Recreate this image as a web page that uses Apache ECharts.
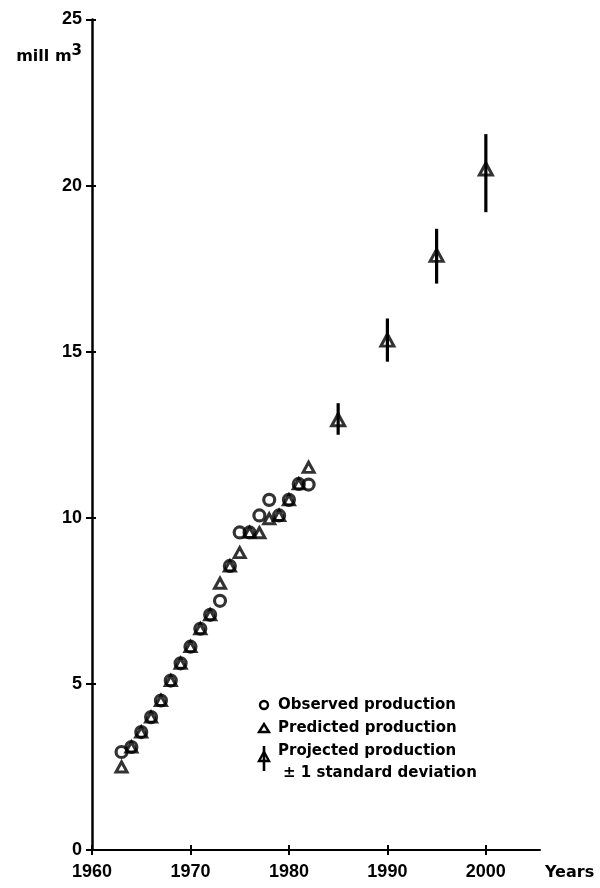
<!DOCTYPE html>
<html>
<head>
<meta charset="utf-8">
<style>html,body{margin:0;padding:0;background:#fff}#c{width:600px;height:888px}</style>
<script src="https://cdn.jsdelivr.net/npm/echarts@6/dist/echarts.min.js"></script>
</head>
<body>
<div id="c"></div>
<script>
const years = [1963,1964,1965,1966,1967,1968,1969,1970,1971,1972,1973,1974,1975,1976,1977,1978,1979,1980,1981,1982];
const observed = [2.95,3.1,3.55,4.0,4.5,5.1,5.62,6.12,6.66,7.08,7.5,8.55,9.56,9.56,10.07,10.54,10.07,10.54,11.02,11.0];
const predicted = [2.5,3.1,3.55,4.0,4.5,5.1,5.62,6.12,6.66,7.08,8.03,8.55,8.95,9.56,9.55,9.97,10.07,10.54,11.02,11.52];
const projYears = [1985,1990,1995,2000];
const projMean = [12.95,15.35,17.9,20.5];
const projLow = [12.5,14.7,17.05,19.2];
const projHigh = [13.45,16.0,18.7,21.55];
const xTicks = [1960,1970,1980,1990,2000];
const yTicks = [0,5,10,15,20,25];

const FONT = 'DejaVu Sans';
const TICKFONT = 'Liberation Sans';
const chart = echarts.init(document.getElementById('c'), null, {renderer:'canvas'});

const tickLbl = {fontFamily: TICKFONT, fontWeight: 'bold', fontSize: 18, color: '#000'};
const nameLbl = {fontFamily: FONT, fontWeight: 'bold', fontSize: 16, color: '#000'};

chart.setOption({
  animation: false,
  backgroundColor: '#fff',
  grid: {left: 92, top: 19.5, width: 448, height: 830.5},
  xAxis: [{
    type: 'value', min: 1960, max: 2005.5, interval: 10,
    splitLine: {show: false},
    axisLine: {lineStyle: {color: '#000', width: 2}},
    axisTick: {customValues: xTicks, length: 5, lineStyle: {color: '#000', width: 2}},
    axisLabel: Object.assign({customValues: xTicks, margin: 13, formatter: v => String(v)}, tickLbl),
    name: 'Years', nameLocation: 'end', nameGap: 5,
    nameTextStyle: Object.assign({align: 'left', verticalAlign: 'top', padding: [15, 0, 0, 0]}, nameLbl)
  }, {
    type: 'value', min: 1960, max: 2005.5, interval: 10, position: 'bottom',
    splitLine: {show: false},
    axisLine: {show: false},
    axisTick: {inside: true, customValues: xTicks, length: 5, lineStyle: {color: '#000', width: 2}},
    axisLabel: {show: false}
  }],
  yAxis: [{
    type: 'value', min: 0, max: 25, interval: 5,
    splitLine: {show: false},
    axisLine: {show: true, lineStyle: {color: '#000', width: 2.5}},
    axisTick: {show: true, customValues: yTicks, length: 6, lineStyle: {color: '#000', width: 2}},
    axisLabel: Object.assign({margin: 10}, tickLbl),
    name: 'mill m{sup|3}', nameLocation: 'end', nameGap: -37,
    nameTextStyle: Object.assign({align: 'right', verticalAlign: 'middle', padding: [0, 10, 0, 0],
      rich: {sup: {fontFamily: FONT, fontWeight: 'bold', fontSize: 15, color: '#000', verticalAlign: 'bottom', padding: [0,0,10,0]}}}, nameLbl)
  }, {
    type: 'value', min: 0, max: 25, interval: 5, position: 'left',
    splitLine: {show: false},
    axisLine: {show: false},
    axisTick: {show: true, inside: true, customValues: yTicks, length: 4, lineStyle: {color: '#000', width: 2}},
    axisLabel: {show: false}
  }],
  series: [
    {
      name: 'Predicted production', type: 'scatter', symbol: 'triangle', symbolSize: [11, 10],
      itemStyle: {color: 'rgba(0,0,0,0)', borderColor: '#000', borderWidth: 3},
      data: years.map((y, i) => [y, predicted[i]]), z: 3
    },
    {
      name: 'Observed production', type: 'scatter', symbol: 'circle', symbolSize: 11,
      itemStyle: {color: 'rgba(0,0,0,0)', borderColor: '#000', borderWidth: 3.2},
      data: years.map((y, i) => [y, observed[i]]), z: 3
    },
    {
      name: 'Projected production', type: 'scatter', symbol: 'triangle', symbolSize: [13, 12],
      itemStyle: {color: '#fff', borderColor: '#000', borderWidth: 3},
      data: projYears.map((y, i) => [y, projMean[i]]), z: 2
    },
    {
      name: 'Std dev', type: 'custom', z: 4,
      data: projYears.map((y, i) => [y, projLow[i], projHigh[i]]),
      renderItem: function (params, api) {
        const x = api.value(0);
        const p1 = api.coord([x, api.value(1)]);
        const p2 = api.coord([x, api.value(2)]);
        return {type: 'line', shape: {x1: p1[0], y1: p1[1], x2: p2[0], y2: p2[1]},
          style: {stroke: '#000', lineWidth: 3.2}};
      }
    }
  ],
  graphic: [
    {type: 'circle', shape: {cx: 264, cy: 705, r: 4}, style: {fill: 'none', stroke: '#000', lineWidth: 2.4}},
    {type: 'text', x: 278, y: 705, style: {text: 'Observed production', font: 'bold 15px "DejaVu Sans"', fill: '#000', verticalAlign: 'middle'}},
    {type: 'polygon', shape: {points: [[259, 732], [269, 732], [264, 724]]}, style: {fill: 'none', stroke: '#000', lineWidth: 2.4}},
    {type: 'text', x: 278, y: 728, style: {text: 'Predicted production', font: 'bold 15px "DejaVu Sans"', fill: '#000', verticalAlign: 'middle'}},
    {type: 'polygon', shape: {points: [[259, 761], [269, 761], [264, 752]]}, style: {fill: '#fff', stroke: '#000', lineWidth: 2.4}},
    {type: 'line', shape: {x1: 264, y1: 746, x2: 264, y2: 771}, style: {stroke: '#000', lineWidth: 2.6}},
    {type: 'text', x: 278, y: 751, style: {text: 'Projected production', font: 'bold 15px "DejaVu Sans"', fill: '#000', verticalAlign: 'middle'}},
    {type: 'text', x: 283, y: 773, style: {text: '± 1 standard deviation', font: 'bold 15px "DejaVu Sans"', fill: '#000', verticalAlign: 'middle'}}
  ]
});
</script>
</body>
</html>
